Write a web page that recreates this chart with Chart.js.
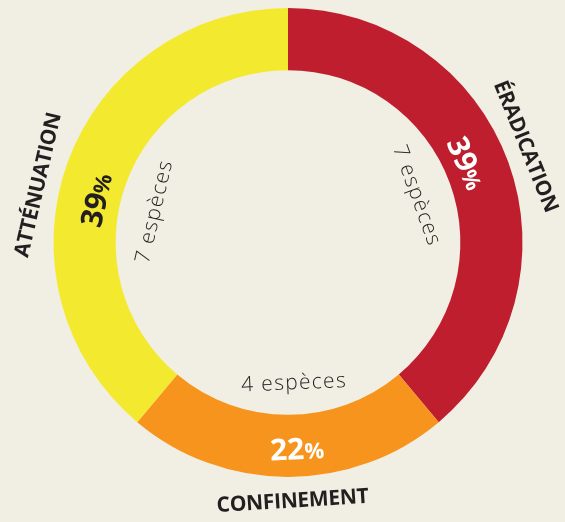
<!DOCTYPE html>
<html lang="fr">
<head>
<meta charset="utf-8">
<script src="https://cdn.jsdelivr.net/npm/chart.js@4/dist/chart.umd.min.js"></script>
<style>
  html, body { margin: 0; padding: 0; background: #f1eee3; }
  #graphique { display: block; }
</style>
</head>
<body>
<canvas id="graphique" width="565" height="522"></canvas>
<script>
const categories = ['ÉRADICATION', 'CONFINEMENT', 'ATTÉNUATION'];
const especes = [7, 4, 7];
const pourcentages = [39, 22, 39];
const couleurs = ['#be1e2d', '#f7941d', '#f3ea2f'];
const couleursPourcent = ['#ffffff', '#ffffff', '#231f20'];
const encre = '#231f20';

// décalages d'angle (degrés) par rapport au milieu du segment, et de rayon
const reglages = [
  { dEtiq: -2, dPct: -4, dEsp: 0, rPct: -8, rEsp: 0, incl: 0 },
  { dEtiq: -1, dPct: -2.5, dEsp: -2.5, rPct: 3, rEsp: 5, incl: -2.5 },
  { dEtiq: -7, dPct: -7.5, dEsp: -7, rPct: -7, rEsp: 0, incl: 0 }
];

const rad = d => d * Math.PI / 180;

function ecrire(ctx, morceaux, cx, cy, angle, r, bas, incl) {
  ctx.save();
  ctx.translate(cx + r * Math.cos(angle), cy + r * Math.sin(angle));
  ctx.rotate((bas ? angle - Math.PI / 2 : angle + Math.PI / 2) + rad(incl));
  ctx.textAlign = 'left';
  ctx.textBaseline = 'alphabetic';
  let total = 0;
  morceaux.forEach(m => {
    ctx.font = m.police;
    ctx.letterSpacing = (m.esp || 0) + 'px';
    m.l = ctx.measureText(m.t).width;
    total += m.l;
  });
  let cur = -total / 2;
  morceaux.forEach(m => {
    ctx.font = m.police;
    ctx.letterSpacing = (m.esp || 0) + 'px';
    ctx.fillStyle = m.couleur;
    ctx.fillText(m.t, cur, m.dy);
    cur += m.l;
  });
  ctx.letterSpacing = '0px';
  ctx.restore();
}

const etiquettes = {
  id: 'etiquettes',
  afterDraw(chart) {
    const ctx = chart.ctx;
    chart.getDatasetMeta(0).data.forEach((arc, i) => {
      const p = arc.getProps(['x', 'y', 'startAngle', 'endAngle', 'innerRadius', 'outerRadius'], true);
      const mid = (p.startAngle + p.endAngle) / 2;
      const bas = Math.sin(mid) > 0.5;
      const g = reglages[i];
      const milieu = (p.innerRadius + p.outerRadius) / 2;

      ecrire(ctx, [{ t: categories[i], police: 'bold 21px "Open Sans"', couleur: encre, dy: 7.5, esp: -0.3 }],
        p.x, p.y, mid + rad(g.dEtiq), p.outerRadius + 23, bas, g.incl);

      ecrire(ctx, [
        { t: String(pourcentages[i]), police: 'bold 30px "Open Sans"', couleur: couleursPourcent[i], dy: 10.5 },
        { t: '%', police: 'bold 22px "Open Sans"', couleur: couleursPourcent[i], dy: 10.5 }
      ], p.x, p.y, mid + rad(g.dPct), milieu + g.rPct, bas, 0);

      ecrire(ctx, [{ t: especes[i] + ' espèces', police: '300 21px "Open Sans"', couleur: encre, dy: 5.5, esp: 1.3 }],
        p.x, p.y, mid + rad(g.dEsp), p.innerRadius - 36 + g.rEsp, bas, 0);
    });
  }
};

new Chart(document.getElementById('graphique'), {
  type: 'doughnut',
  data: {
    labels: categories,
    datasets: [{
      data: especes,
      backgroundColor: couleurs,
      borderWidth: 0
    }]
  },
  options: {
    responsive: false,
    animation: false,
    cutout: '73.5%',
    layout: { padding: { top: 8, bottom: 45, left: 11, right: 0 } },
    plugins: {
      legend: { display: false },
      tooltip: { enabled: false }
    }
  },
  plugins: [etiquettes]
});
</script>
</body>
</html>
